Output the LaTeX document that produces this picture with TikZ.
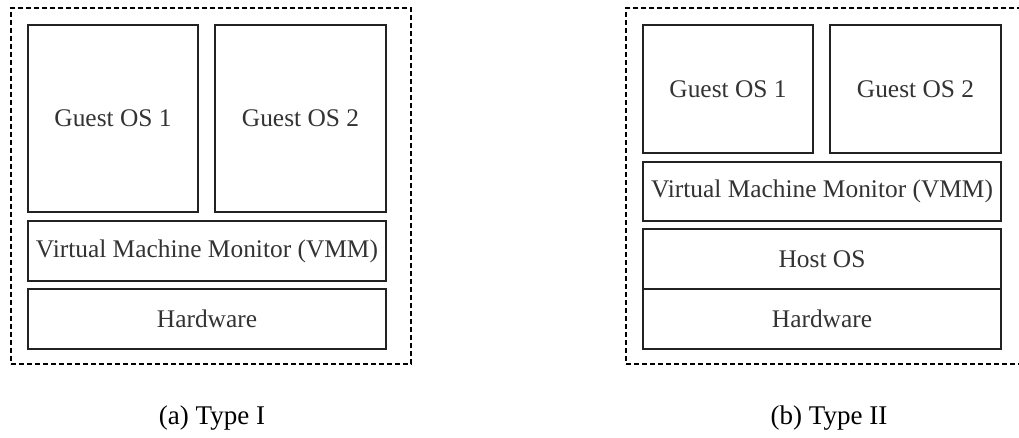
\documentclass[tikz,border=0pt]{standalone}
\usepackage{fontspec}
\setmainfont{Liberation Serif}
\definecolor{txt}{HTML}{333333}
\definecolor{edge}{HTML}{222222}
\begin{document}
\begin{tikzpicture}[x=1pt,y=-1pt,
  layer/.style={draw=edge, line width=1.1pt, inner sep=0pt, outer sep=0pt, anchor=north west,
    text=txt, font=\fontsize{25.4}{28}\selectfont},
  frame/.style={draw=black, line width=1.7pt, dash pattern=on 5pt off 3pt, inner sep=0pt, outer sep=0pt, anchor=north west},
  captext/.style={font=\fontsize{27}{30}\selectfont, text=black, inner sep=0pt}]
\useasboundingbox (0,0) rectangle (1019,438);
% Type I
\node[frame, minimum width=400pt, minimum height=356pt] (fa) at (11,8) {};
\node[layer, minimum width=170pt, minimum height=187pt] (ga1) at (28,25) {Guest OS 1};
\node[layer, minimum width=171pt, minimum height=187pt] (ga2) at (215,25) {Guest OS 2};
\node[layer, minimum width=358pt, minimum height=60pt] (va) at (28,221) {Virtual Machine Monitor (VMM)};
\node[layer, minimum width=358pt, minimum height=60pt] (ha) at (28,289) {Hardware};
\node[captext] (ca) at (212,418) {(a) Type I};
% Type II
\node[frame, minimum width=400pt, minimum height=356pt] (fb) at (626,8) {};
\node[layer, minimum width=170pt, minimum height=128pt] (gb1) at (643,25) {Guest OS 1};
\node[layer, minimum width=171pt, minimum height=128pt] (gb2) at (830,25) {Guest OS 2};
\node[layer, minimum width=358pt, minimum height=59pt] (vb) at (643,162) {Virtual Machine Monitor (VMM)};
\node[layer, minimum width=358pt, minimum height=60pt] (hob) at (643,229) {Host OS};
\node[layer, minimum width=358pt, minimum height=60pt] (hb) at (643,289) {Hardware};
\node[captext] (cb) at (829,418) {(b) Type II};
\end{tikzpicture}
\end{document}
